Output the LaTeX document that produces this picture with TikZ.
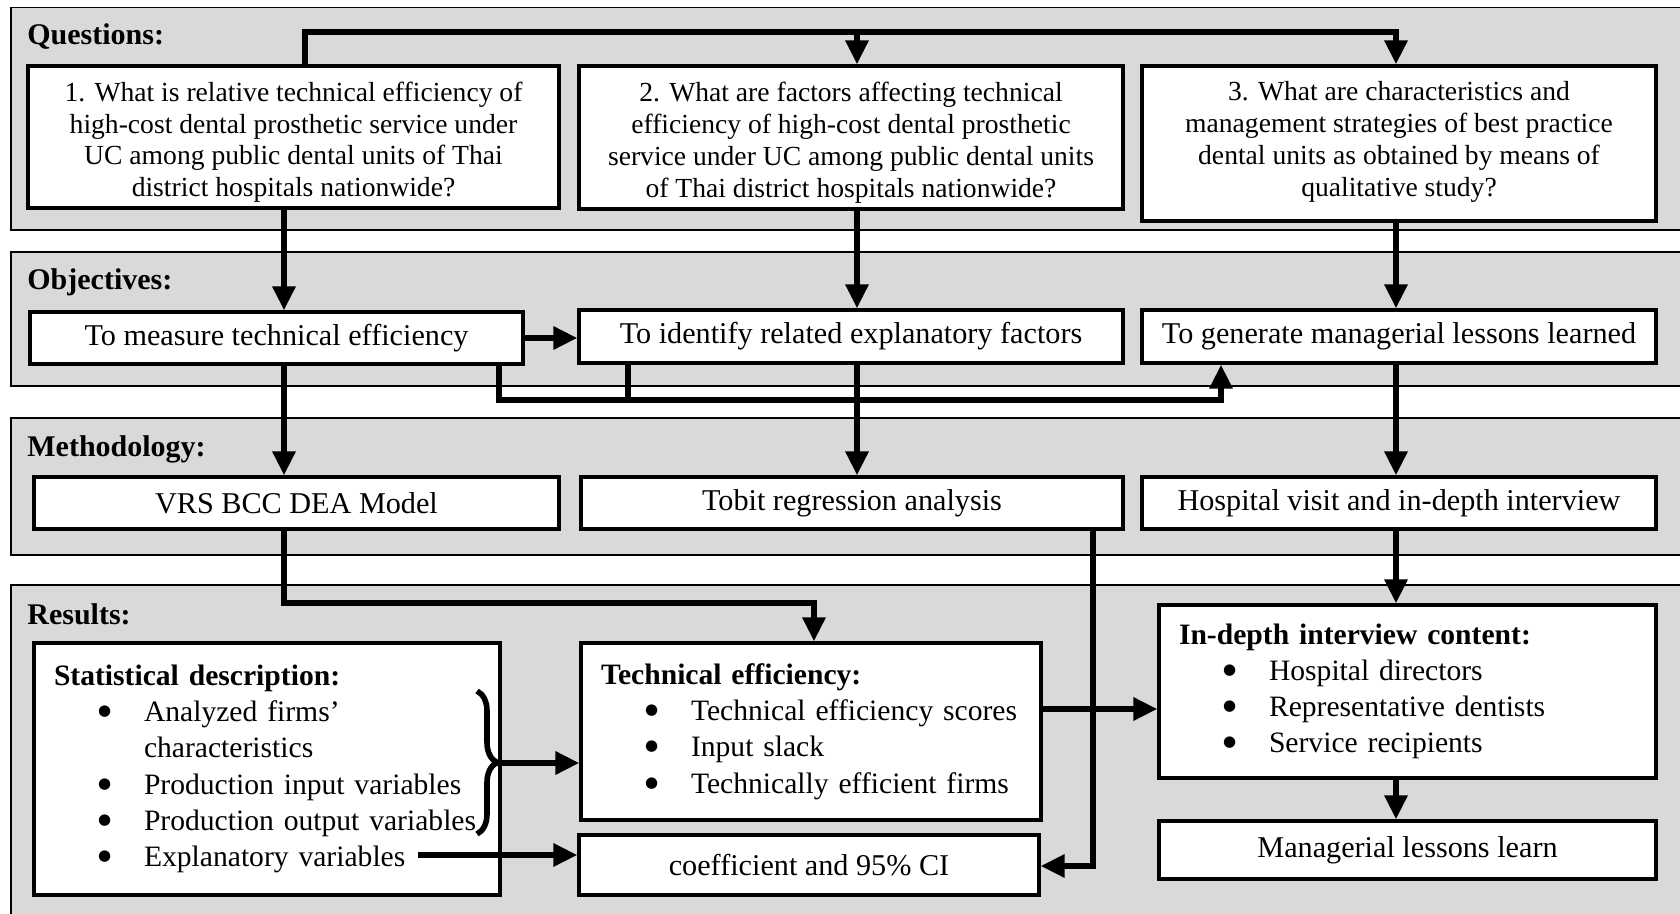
\documentclass[tikz,border=0pt]{standalone}
\usepackage{fontspec}
\setmainfont{Liberation Serif}
\newfontfamily\symfont{DejaVu Sans}
\usepackage{tikz}
\usetikzlibrary{
  arrows.meta,%
  decorations.pathreplacing,%
  calc
}
\tikzset{>={Triangle[length=12pt,width=11pt]}}
\tikzset{font=\fontsize{15.1}{16}\selectfont}
\tikzset{band/.style={draw=black, fill=gray!30, line width=0.8pt},
  box/.style={draw=black, fill=white, line width=1.6pt, align=center, inner sep=0pt},
  qbox/.style={box, font=\fontsize{13.8}{15.9}\selectfont},
  listbox/.style={box, align=left, inner sep=0pt, font=\fontsize{14.8}{18.1}\selectfont},
  conn/.style={line width=3pt},
  title/.style={anchor=west, inner sep=0pt, font=\fontsize{15}{16}\selectfont\bfseries}}
% heading and bullet lines inside a list box
\newcommand{\lhead}[1]{\hspace*{10pt}\textbf{#1}}
\newcommand{\itm}[1]{\\\hspace*{32pt}\makebox[23pt][l]{\raisebox{3pt}{\symfont\fontsize{7.5}{8}\selectfont ●}}#1}
\newcommand{\qtop}{\rule{0pt}{15pt}}

\begin{document}
\begin{tikzpicture}[x=0.5pt, y=-0.5pt]
  \useasboundingbox (0,0) rectangle (1680,914);
  % the four bands
  \draw[band] (11,7.5) rectangle (1690,230);
  \draw[band] (11,252) rectangle (1690,386);
  \draw[band] (11,418) rectangle (1690,555);
  \draw[band] (11,585) rectangle (1690,925);
  \node[title] (lq) at (27,37) {Questions:};
  \node[title] (lo) at (27,282) {Objectives:};
  \node[title] (lm) at (27,449) {Methodology:};
  \node[title] (lr) at (27,614) {Results:};

  % questions
  \node[qbox, minimum width=265.5pt, minimum height=71pt] (q1) at (293.5,137)
    {\qtop1. What is relative technical efficiency of\\high-cost dental prosthetic service under\\UC among public dental units of Thai\\district hospitals nationwide?};
  \node[qbox, minimum width=272pt, minimum height=71.5pt] (q2) at (851,137.5)
    {\qtop2. What are factors affecting technical\\efficiency of high-cost dental prosthetic\\service under UC among public dental units\\of Thai district hospitals nationwide?};
  \node[qbox, minimum width=257pt, minimum height=77.5pt] (q3) at (1399,143.5)
    {\qtop3. What are characteristics and\\management strategies of best practice\\dental units as obtained by means of\\qualitative study?\rule[-10pt]{0pt}{10pt}};

  % objectives
  \node[box, minimum width=246.5pt, minimum height=26pt] (o1) at (276.5,338) {To measure technical efficiency};
  \node[box, minimum width=272pt, minimum height=26.5pt] (o2) at (851,336.5) {To identify related explanatory factors};
  \node[box, minimum width=257pt, minimum height=26.5pt] (o3) at (1399,336.5) {To generate managerial lessons learned};

  % methodology
  \node[box, minimum width=262.5pt, minimum height=26pt] (m1) at (296.5,503) {VRS BCC DEA Model};
  \node[box, minimum width=271pt, minimum height=26pt] (m2) at (852,503) {Tobit regression analysis};
  \node[box, minimum width=257pt, minimum height=26pt] (m3) at (1399,503) {Hospital visit and in-depth interview};

  % results
  \node[listbox, text width=233pt, minimum height=126pt] (r1) at (267,769)
    {\lhead{Statistical description:}\itm{Analyzed firms'}\\\hspace*{55pt}characteristics
     \itm{Production input variables}\itm{Production output variables}\itm{Explanatory variables}};
  \node[listbox, text width=230pt, minimum height=88.5pt] (r2) at (811,731.5)
    {\lhead{Technical efficiency:}\itm{Technical efficiency scores}\itm{Input slack}\itm{Technically efficient firms}};
  \node[box, minimum width=230pt, minimum height=30pt] (r3) at (809,865) {coefficient and 95\% CI};
  \node[listbox, text width=248.5pt, minimum height=86.5pt] (r4) at (1407.5,691.5)
    {\lhead{In-depth interview content:}\itm{Hospital directors}\itm{Representative dentists}\itm{Service recipients}};
  \node[box, minimum width=248.5pt, minimum height=29pt] (r5) at (1407.5,850) {Managerial lessons learn};

  % columns and bends
  \coordinate (c1) at (284,0);
  \coordinate (c2) at (857,0);
  \coordinate (c3) at (1396,0);
  \coordinate (t1) at (305,32);
  \coordinate (u1) at (499,400);
  \coordinate (u2) at (1221,400);
  \coordinate (u3) at (628,400);
  \coordinate (v) at (1093,866);
  \coordinate (w) at (814,603);
  \coordinate (bt) at (497,763);
  \coordinate (ev) at (418,855);
  \coordinate (te) at (0,709);

  \draw[conn,->] (q1.north -| t1) -- (t1) -| (q3.north -| c3);
  \draw[conn,->] (t1 -| c2) -- (q2.north -| c2);
  \foreach \c/\a/\b in {c1/q1/o1, c2/q2/o2, c3/q3/o3, c1/o1/m1, c2/o2/m2, c3/o3/m3, c3/m3/r4, c3/r4/r5}
    \draw[conn,->] (\a.south -| \c) -- (\b.north -| \c);
  \draw[conn,->] (o1.east) -- (o1.east -| o2.west);
  \draw[conn,->] (o1.south -| u1) -- (u1) -- (u2) -- (u2 |- o3.south);
  \draw[conn] (o2.south -| u3) -- (u3);
  \draw[conn,->] (m1.south -| c1) |- (w) -- (w |- r2.north);
  \draw[conn,->] (m2.south -| v) -- (v) -- (v -| r3.east);
  \draw[conn,->] (r2.east |- te) -- (r4.west |- te);
  \draw[line width=2.8pt, decorate, decoration={brace, amplitude=10pt}] (477,691) -- (477,834);
  \draw[conn,->] (bt) -- (bt -| r2.west);
  \draw[conn,->] (ev) -- (ev -| r3.west);
\end{tikzpicture}
\end{document}
